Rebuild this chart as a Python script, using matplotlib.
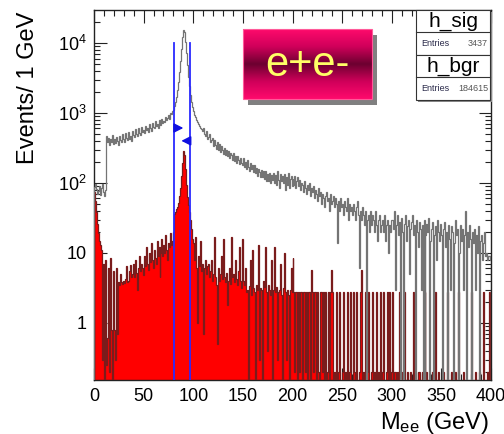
import numpy as np
import matplotlib
matplotlib.use("Agg")
import matplotlib.pyplot as plt
from matplotlib.patches import Rectangle
from matplotlib.colors import LinearSegmentedColormap
from matplotlib.ticker import MultipleLocator, LogLocator, FixedLocator, FixedFormatter, NullFormatter

plt.rcParams["font.family"] = ["Liberation Sans", "DejaVu Sans"]
plt.rcParams["mathtext.fontset"] = "custom"
plt.rcParams["mathtext.rm"] = "Liberation Sans"
plt.rcParams["mathtext.it"] = "Liberation Sans:italic"
plt.rcParams["mathtext.bf"] = "Liberation Sans:bold"

# ---- binning: 1 GeV bins from 0 to 400 GeV ----
mass_min, mass_max, bin_width = 0, 400, 1

# ---- h_bgr: Drell-Yan e+e- background, events per 1 GeV bin ----
h_bgr = [
    88, 96, 82, 70, 76, 90, 68, 84, 98, 74,
    66, 80, 470, 380, 440, 350, 420, 390, 480, 360,
    430, 370, 455, 400, 345, 470, 410, 385, 500, 420,
    380, 510, 445, 410, 540, 430, 470, 395, 560, 480,
    450, 590, 500, 470, 610, 520, 480, 640, 540, 575,
    520, 660, 570, 610, 540, 690, 600, 560, 720, 640,
    600, 760, 650, 700, 620, 790, 700, 680, 830, 720,
    780, 740, 880, 800, 850, 940, 830, 1000, 960, 1060,
    1120, 1250, 1450, 1700, 2100, 2800, 3900, 5600, 8300, 12000,
    15500, 14500, 10500, 7200, 4800, 3300, 2400, 1800, 1450, 1200,
    1050, 940, 870, 800, 740, 690, 650, 620, 590, 560,
    610, 500, 470, 560, 430, 460, 500, 390, 410, 440,
    340, 410, 350, 310, 390, 300, 355, 280, 335, 300,
    260, 320, 255, 300, 240, 285, 225, 270, 250, 215,
    265, 205, 240, 195, 245, 215, 185, 230, 195, 180,
    225, 170, 200, 160, 210, 170, 150, 195, 160, 180,
    145, 180, 140, 165, 125, 160, 145, 120, 155, 120,
    150, 115, 150, 105, 135, 105, 140, 100, 130, 110,
    140, 100, 130, 95, 150, 110, 85, 135, 105, 125,
    100, 135, 80, 120, 95, 140, 85, 115, 125, 90,
    115, 95, 125, 85, 105, 120, 90, 110, 80, 100,
    95, 75, 105, 85, 70, 95, 80, 100, 65, 85,
    75, 90, 60, 80, 70, 55, 85, 65, 75, 50,
    70, 60, 45, 65, 75, 55, 60, 40, 70, 50,
    55, 65, 45, 60, 50, 14, 55, 40, 60, 45,
    50, 35, 55, 45, 40, 60, 30, 50, 40, 45,
    35, 50, 40, 30, 45, 55, 35, 6, 40, 30,
    45, 35, 25, 40, 0, 30, 35, 20, 40, 25,
    35, 30, 20, 40, 25, 15, 30, 35, 20, 25,
    30, 20, 35, 15, 25, 30, 10, 25, 20, 30,
    30, 22, 40, 3, 25, 35, 18, 28, 0, 32,
    20, 0, 26, 35, 15, 24, 30, 5, 22, 28,
    35, 18, 25, 0, 30, 20, 12, 28, 22, 3,
    25, 0, 30, 0, 18, 26, 20, 32, 0, 15,
    22, 28, 0, 18, 24, 8, 30, 20, 15, 26,
    18, 0, 22, 28, 12, 20, 0, 25, 16, 3,
    24, 20, 0, 14, 30, 18, 22, 0, 10, 25,
    15, 22, 3, 18, 40, 0, 20, 12, 25, 16,
    0, 20, 14, 22, 3, 18, 10, 24, 0, 15,
    18, 8, 14, 20, 9, 10, 8, 9, 9, 8,
]

# ---- h_sig: signal e+e- events per 1 GeV bin ----
h_sig = [
    75, 55, 38, 26, 19, 15, 13, 11, 0.3, 7,
    0, 8, 0.25, 0.6, 6, 0.2, 8.5, 0.8, 0, 5.5,
    0.8, 0.3, 6, 0.7, 3.8, 3.5, 5, 3.8, 3.6, 4,
    3.7, 4.2, 6.5, 3.8, 4, 5.5, 6.8, 4.5, 5, 7,
    4.6, 8, 5.2, 3, 6, 9, 5.5, 7, 6, 4.8,
    9, 6.5, 12, 7, 5.8, 10, 7.5, 14, 8, 6,
    11, 8.5, 7, 15, 9, 12, 4.5, 10, 16, 9,
    13, 10, 18, 11, 8, 14, 12, 19, 13, 15,
    20, 36, 38, 42, 46, 52, 65, 85, 125, 190,
    290, 250, 160, 95, 62, 48, 38, 30, 22, 16,
    14, 8, 17, 6, 1, 9, 6.5, 15, 5.5, 7,
    0.7, 6, 8, 5, 6.5, 7, 4.5, 5.5, 8, 4,
    5, 17, 4.5, 3.5, 0.5, 6, 4, 5, 9, 4.2,
    16, 4.5, 3.8, 5.2, 1.8, 4, 6, 3.6, 17, 4.5,
    5, 3.8, 8, 4.2, 3.5, 5.5, 12, 4, 3.2, 16,
    4, 3.5, 6, 2.8, 3, 0, 3.4, 8, 2.5, 11,
    3.2, 2.8, 0, 3.5, 3, 13, 0.3, 3.2, 3, 0,
    4, 3.3, 12, 2.8, 0.4, 3.5, 3, 2.5, 8, 0,
    3, 12, 2.8, 3.3, 0.3, 2.8, 3, 7, 2.5, 0,
    3.2, 10, 2.8, 0.3, 3, 2.5, 0, 3, 6, 2.8,
    8.5, 2.8, 0.2, 2.8, 2.8, 0, 2.8, 0.2, 2.8, 2.8,
    0, 2.8, 2.8, 0.2, 2.8, 0, 2.8, 2.8, 0, 5.7,
    2.8, 0.2, 2.8, 2.8, 0, 2.8, 0.2, 0, 2.8, 2.8,
    0.2, 2.8, 0, 2.8, 0, 0.2, 2.8, 0, 2.8, 5.7,
    2.8, 0, 0.2, 0, 2.8, 0, 0.2, 2.8, 0, 0,
    0.2, 2.8, 0, 0.2, 0, 2.8, 0, 0.2, 2.8, 0,
    0, 2.8, 0.2, 0, 2.8, 0, 0, 0.2, 2.8, 5.7,
    0, 0.2, 0, 2.8, 0, 0.2, 2.8, 0, 0, 0.2,
    2.8, 0, 0.2, 0, 2.8, 0, 0.2, 0, 2.8, 0,
    0.2, 2.8, 0, 0, 0.2, 2.8, 0, 2.8, 0, 0.2,
    2.8, 0, 0.2, 0.2, 0, 0.2, 0, 2.8, 0, 0,
    0.2, 0, 2.8, 0, 0, 0.2, 0, 0, 0.2, 0,
    0, 2.8, 0, 0.2, 0, 0, 0.2, 0.2, 0, 0,
    0.2, 0, 0, 2.8, 0, 0.2, 0, 0, 0, 0,
    0, 0.2, 0, 0, 2.8, 0, 0, 0.2, 0, 0,
    0, 0, 0.2, 0, 0, 0, 2.8, 0, 0, 0,
    0.2, 0, 0, 0, 0.2, 0, 0, 2.8, 0, 0,
    0, 0, 0.2, 0, 0, 0, 0, 0, 0, 0,
    2.8, 0, 0, 0, 0.2, 0, 0, 0, 0.2, 0,
    0, 0, 2.8, 0, 0, 0, 0.2, 0, 2.8, 0,
]

# ---- mass window cut and its markers ----
cut_low, cut_high = 81, 97
cut_line_top = 1e4
arrow_right_y, arrow_left_y = 610, 400
arrow_len = 9

# ---- entries shown in the stat boxes ----
stat_names = ["h_sig", "h_bgr"]
stat_entries = [3437, 184615]

# ---- axis ticks ----
x_ticks = [0, 50, 100, 150, 200, 250, 300, 350, 400]
y_ticks = [1, 10, 100, 1000, 10000]
y_tick_labels = ["1", "10", r"$10^{2}$", r"$10^{3}$", r"$10^{4}$"]
y_range = (0.153, 2.96e4)

edges = np.arange(mass_min, mass_max + bin_width, bin_width)
sig = np.asarray(h_sig, dtype=float)
bgr = np.asarray(h_bgr, dtype=float)
assert len(sig) == len(edges) - 1 and len(bgr) == len(edges) - 1

floor = 1e-3   # empty bins are drawn down below the visible range
sig_draw = np.where(sig > 0, sig, floor)
bgr_draw = np.where(bgr > 0, bgr, floor)

W, H = 504, 434
fig = plt.figure(figsize=(W / 100, H / 100), dpi=100)
ax = fig.add_axes([94 / W, 54 / H, 397 / W, 370 / H])
ax.set_yscale("log")

# signal: filled red with dark-red outline
ax.stairs(sig_draw, edges, baseline=floor, fill=True, color="#ff0000", zorder=2)
ax.stairs(sig_draw, edges, baseline=floor, color="#7a1c1c", lw=0.9, zorder=3)
# background: grey outline
ax.stairs(bgr_draw, edges, baseline=floor, color="#747474", lw=0.9, zorder=4)

# mass-window lines and arrows
for xc in (cut_low, cut_high):
    ax.plot([xc, xc], [floor, cut_line_top], color="#2a2aff", lw=1.3, zorder=5)
arrow_kw = dict(arrowstyle="-|>,head_length=0.55,head_width=0.28", color="#1010e0", lw=1.1,
                shrinkA=0, shrinkB=0)
ax.annotate("", xy=(cut_low + arrow_len, arrow_right_y), xytext=(cut_low, arrow_right_y),
            arrowprops=arrow_kw, zorder=6)
ax.annotate("", xy=(cut_high - arrow_len, arrow_left_y), xytext=(cut_high, arrow_left_y),
            arrowprops=arrow_kw, zorder=6)

ax.set_xlim(mass_min, mass_max)
ax.set_ylim(*y_range)

ax.xaxis.set_major_locator(FixedLocator(x_ticks))
ax.xaxis.set_minor_locator(MultipleLocator(10))
ax.yaxis.set_major_locator(FixedLocator(y_ticks))
ax.yaxis.set_major_formatter(FixedFormatter(y_tick_labels))
ax.yaxis.set_minor_locator(LogLocator(base=10, subs=np.arange(2, 10), numticks=20))
ax.yaxis.set_minor_formatter(NullFormatter())
ax.tick_params(which="both", direction="in", top=True, right=True, width=0.8, colors="#222222",
               labelcolor="black", labelsize=13)
ax.tick_params(which="major", length=9)
ax.tick_params(which="minor", length=4.5)
ax.tick_params(axis="x", pad=6)
ax.tick_params(axis="y", pad=5)
for s in ax.spines.values():
    s.set_linewidth(1.0)
    s.set_color("#222222")

# overlay in pixel coordinates for titles and boxes
ov = fig.add_axes([0, 0, 1, 1])
ov.set_xlim(0, W)
ov.set_ylim(H, 0)
ov.axis("off")

ov.text(28, 12, "Events/ 1 GeV", rotation=90, ha="center", va="top", fontsize=17)
ov.text(489, 429, r"M$_{\mathrm{ee}}$ (GeV)", ha="right", va="baseline", fontsize=17)

# e+e- label box with shadow and vertical colour gradient
bx0, bx1, by0, by1 = 243, 372, 29, 99
ov.add_patch(Rectangle((bx0 + 5, by0 + 6), bx1 - bx0, by1 - by0, facecolor="#808080",
                       edgecolor="none", zorder=1))
grad_cmap = LinearSegmentedColormap.from_list(
    "pinkband", ["#ff0a6c", "#d0005a", "#6c0030", "#d0005a", "#ff0a6c"])
grad = np.linspace(0, 1, 256).reshape(-1, 1)
ov.imshow(grad, cmap=grad_cmap, aspect="auto", extent=(bx0, bx1, by1, by0), zorder=2,
          interpolation="bilinear")
ov.add_patch(Rectangle((bx0, by0), bx1 - bx0, by1 - by0, facecolor="none",
                       edgecolor="#ff5a9a", lw=0.8, zorder=3))
ov.text((bx0 + bx1) / 2, (by0 + by1) / 2 + 1, "e+e-", color="#ffff66", fontsize=30,
        ha="center", va="center", zorder=4)
ov.set_xlim(0, W)
ov.set_ylim(H, 0)

# stat boxes
sx0, sx1 = 416, 490
box_tops = [10, 55]
for name, entries, top in zip(stat_names, stat_entries, box_tops):
    ov.add_patch(Rectangle((sx0 + 2, top + 2), sx1 - sx0, 45, facecolor="#8a8a8a",
                           edgecolor="none", zorder=1))
    ov.add_patch(Rectangle((sx0, top), sx1 - sx0, 45, facecolor="white",
                           edgecolor="#333333", lw=0.8, zorder=2))
    ov.plot([sx0, sx1], [top + 22, top + 22], color="#333333", lw=0.8, zorder=3)
    ov.text((sx0 + sx1) / 2, top + 11.5, name, ha="center", va="center", fontsize=15, zorder=4)
    ov.text(sx0 + 5, top + 33.5, "Entries", ha="left", va="center", fontsize=6.5,
            color="#2a2a4a", zorder=4)
    ov.text(sx1 - 2, top + 33.5, str(entries), ha="right", va="center", fontsize=6.5,
            color="#555555", zorder=4)

fig.savefig("out.png", dpi=100)
